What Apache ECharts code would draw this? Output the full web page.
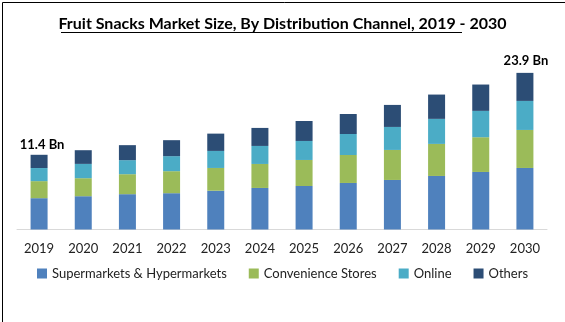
<!DOCTYPE html>
<html>
<head>
<meta charset="utf-8">
<script src="https://cdn.jsdelivr.net/npm/echarts@6/dist/echarts.min.js"></script>
<style>
html,body{margin:0;padding:0;background:#fff;}
#c{width:565px;height:322px;}
</style>
</head>
<body>
<div id="c"></div>
<script>
const years = ['2019','2020','2021','2022','2023','2024','2025','2026','2027','2028','2029','2030'];
const supermarkets = [4.78, 5.08, 5.39, 5.54, 5.92, 6.34, 6.64, 7.10, 7.56, 8.17, 8.78, 9.39];
const convenience  = [2.60, 2.75, 3.05, 3.36, 3.47, 3.66, 3.97, 4.27, 4.58, 4.89, 5.30, 5.80];
const online       = [2.00, 2.18, 2.14, 2.29, 2.60, 2.75, 2.90, 3.20, 3.51, 3.82, 4.02, 4.43];
const others       = [2.02, 2.09, 2.29, 2.44, 2.64, 2.75, 3.05, 3.05, 3.36, 3.71, 4.02, 4.28];
const totalLabels  = ['11.4 Bn', '', '', '', '', '', '', '', '', '', '', '23.9 Bn'];
const seriesNames  = ['Supermarkets & Hypermarkets', 'Convenience Stores', 'Online', 'Others'];
const colors = ['#4f81bd', '#9bbb59', '#4bacc6', '#2c4d75'];
const FONT = 'Lato, "Open Sans", sans-serif';

const chart = echarts.init(document.getElementById('c'));
const dataSets = [supermarkets, convenience, online, others];
const series = dataSets.map((d, i) => ({
  name: seriesNames[i],
  type: 'bar',
  stack: 'total',
  barWidth: 17,
  data: d,
  itemStyle: { color: colors[i] },
  label: i === 3 ? {
    show: true,
    position: 'top',
    distance: 5,
    formatter: p => totalLabels[p.dataIndex],
    fontFamily: FONT,
    fontWeight: 'bold',
    fontSize: 13,
    color: '#000'
  } : { show: false },
  emphasis: { disabled: true }
}));
// nudge first label slightly right like the reference
series[3].data = others.map((v, i) => i === 0 ? { value: v, label: { offset: [3, 2] } } : (i === 11 ? { value: v, label: { offset: [1, -1] } } : v));

chart.setOption({
  animation: false,
  color: colors,
  title: {
    text: 'Fruit Snacks Market Size, By Distribution Channel, 2019 - 2030',
    left: 'center',
    top: 11,
    textStyle: { fontFamily: FONT, fontWeight: 'bold', fontSize: 16, color: '#000' }
  },
  graphic: [
    { type: 'rect', left: 0, top: 0, shape: { width: 564, height: 321 }, style: { fill: 'none', stroke: '#000', lineWidth: 1 }, z: 100 },
    { type: 'line', shape: { x1: 61, y1: 32.5, x2: 462, y2: 32.5 }, style: { stroke: '#000', lineWidth: 1 } }
  ],
  grid: { left: 17, right: 18, top: 46, bottom: 92.5 },
  legend: {
    bottom: 37,
    left: 'center',
    itemWidth: 10,
    itemHeight: 10,
    itemGap: 22,
    icon: 'rect',
    data: seriesNames,
    textStyle: { fontFamily: FONT, fontSize: 13, color: '#222' }
  },
  xAxis: {
    type: 'category',
    data: years,
    axisLine: { lineStyle: { color: '#d9d9d9' } },
    axisTick: { show: false },
    axisLabel: { fontFamily: FONT, fontSize: 13, color: '#222', margin: 13 }
  },
  yAxis: {
    type: 'value',
    min: 0,
    max: 28,
    show: false,
    splitLine: { show: false }
  },
  series: series
});
</script>
</body>
</html>
